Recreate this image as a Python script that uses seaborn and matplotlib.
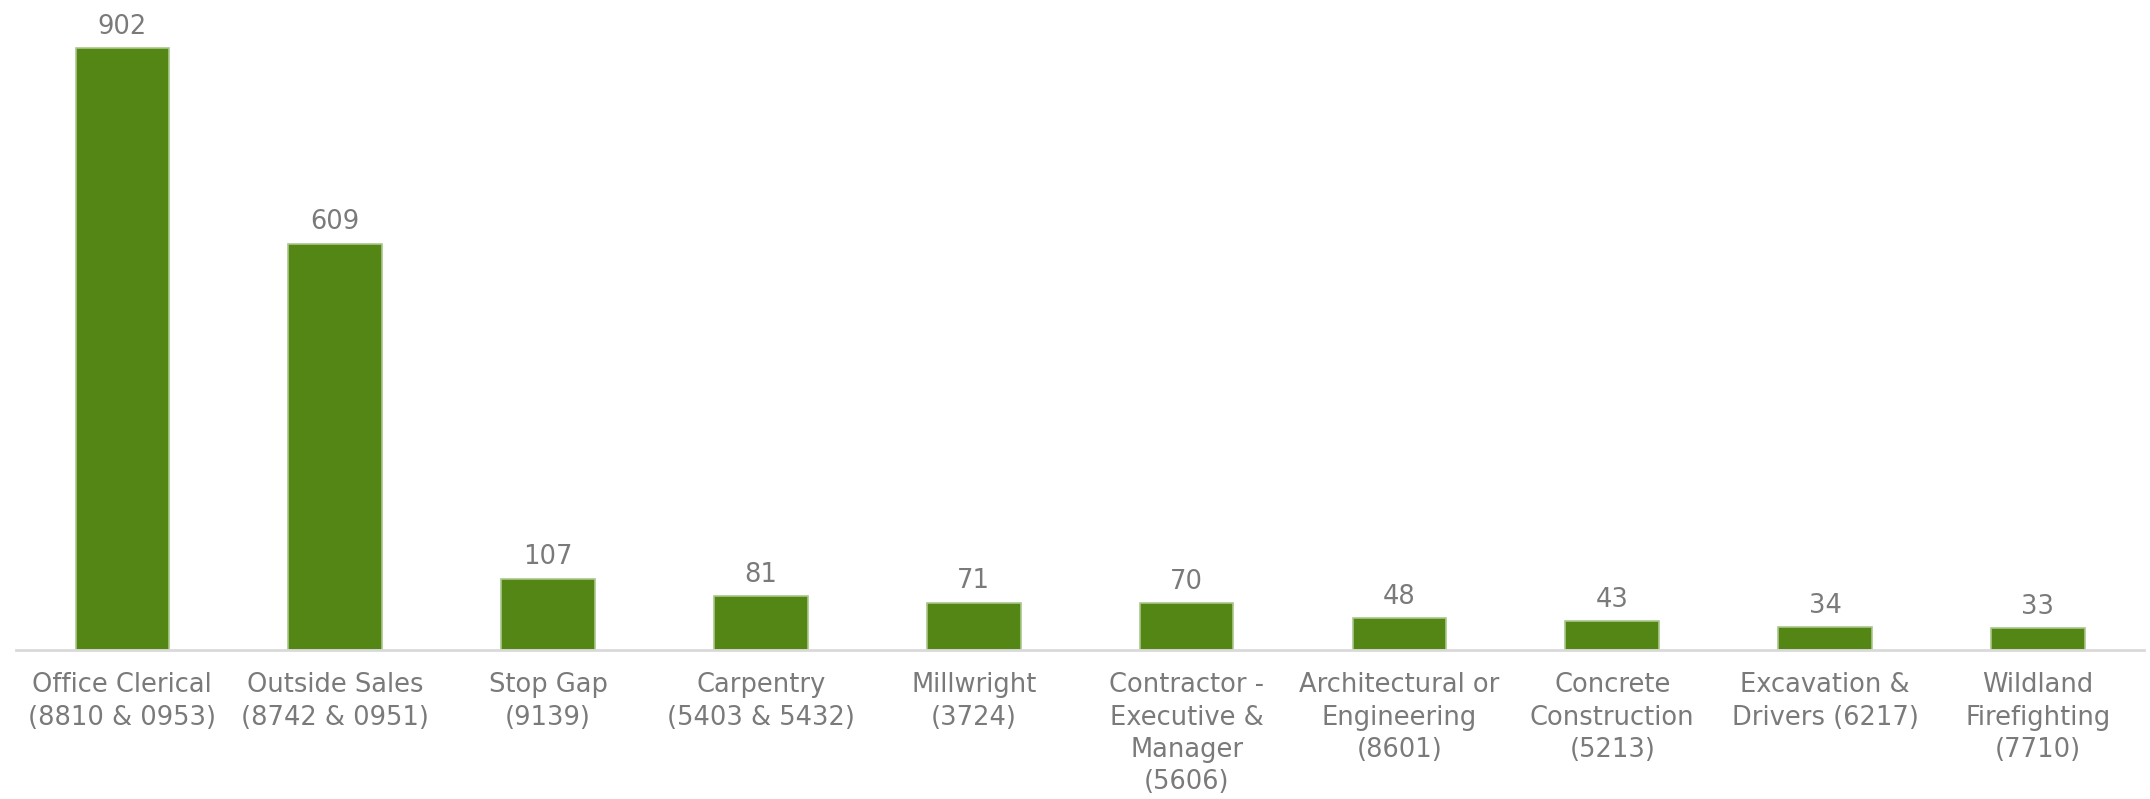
import matplotlib
matplotlib.use("Agg")
import matplotlib.pyplot as plt
import seaborn as sns
import pandas as pd

categories = [
    "Office Clerical\n(8810 & 0953)",
    "Outside Sales\n(8742 & 0951)",
    "Stop Gap\n(9139)",
    "Carpentry\n(5403 & 5432)",
    "Millwright\n(3724)",
    "Contractor -\nExecutive &\nManager\n(5606)",
    "Architectural or\nEngineering\n(8601)",
    "Concrete\nConstruction\n(5213)",
    "Excavation &\nDrivers (6217)",
    "Wildland\nFirefighting\n(7710)",
]
values = [902, 609, 107, 81, 71, 70, 48, 43, 34, 33]

df = pd.DataFrame({"category": categories, "value": values})

sns.set_theme(style="white")
plt.rcParams["font.family"] = ["DejaVu Sans"]

fig = plt.figure(figsize=(21.5, 7.99), dpi=100)
ax = fig.add_axes([0.0074, 0.1865, 0.99, 0.8135])

sns.barplot(data=df, x="category", y="value", color="#548615", saturation=1,
            width=0.44, edgecolor="#a9c78a", linewidth=1.2, ax=ax)

ax.set_ylim(0, 974.5)
ax.set_xlim(-0.5, len(categories) - 0.5)
ax.set_xlabel("")
ax.set_ylabel("")
ax.set_yticks([])
for s in ["top", "right", "left"]:
    ax.spines[s].set_visible(False)
ax.spines["bottom"].set_color("#d9d9d9")
ax.spines["bottom"].set_linewidth(2)
ax.tick_params(axis="x", length=0, pad=16, labelsize=18.5, colors="#7a7a7a")
for lbl in ax.get_xticklabels():
    lbl.set_linespacing(1.32)

for i, v in enumerate(values):
    ax.annotate(str(v), (i, v), xytext=(0, 6), textcoords="offset points",
                ha="center", va="bottom", fontsize=18.5, color="#7a7a7a")

fig.savefig("out.png", dpi=100)
